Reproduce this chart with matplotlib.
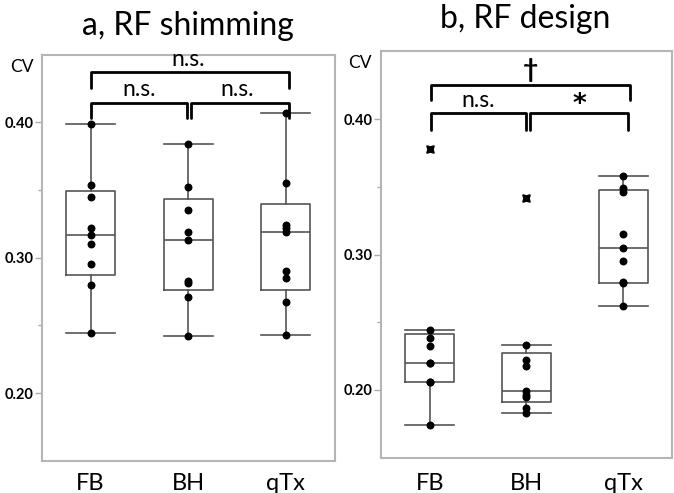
import numpy as np
import matplotlib.pyplot as plt

plt.rcParams['font.family'] = ['Lato', 'DejaVu Sans']

groups = ['FB', 'BH', 'qTx']

# CV values, a = RF shimming, b = RF design
shim_fb = [0.399, 0.354, 0.345, 0.322, 0.317, 0.310, 0.295, 0.280, 0.244]
shim_bh = [0.384, 0.352, 0.335, 0.319, 0.313, 0.283, 0.281, 0.271, 0.242]
shim_qtx = [0.407, 0.355, 0.324, 0.322, 0.319, 0.290, 0.285, 0.267, 0.243]

design_fb = [0.378, 0.244, 0.238, 0.220, 0.220, 0.2325, 0.206, 0.206, 0.174]
design_bh = [0.342, 0.233, 0.222, 0.218, 0.1995, 0.1965, 0.195, 0.187, 0.183]
design_qtx = [0.358, 0.349, 0.346, 0.315, 0.305, 0.295, 0.2795, 0.279, 0.262]

yticks = [0.20, 0.30, 0.40]


def stats(vals):
    v = np.sort(np.asarray(vals))
    q1, med, q3 = np.percentile(v, [25, 50, 75], method='weibull')
    iqr = q3 - q1
    ok = (v >= q1 - 1.5 * iqr) & (v <= q3 + 1.5 * iqr)
    return dict(med=med, q1=q1, q3=q3, whislo=v[ok].min(), whishi=v[ok].max(),
                fliers=[]), v[ok], v[~ok]


def bracket(ax, x0, x1, y, h):
    ax.plot([x0, x0, x1, x1], [y - h, y, y, y - h], color='black', lw=2.0,
            solid_joinstyle='round', solid_capstyle='round', clip_on=False)


def panel(ax, data, label_pad):
    st = []
    for i, vals in enumerate(data):
        s, inside, out = stats(vals)
        st.append(s)
        ax.plot([i] * len(inside), inside, 'o', color='black', ms=4.7, zorder=3)
        ax.plot([i] * len(out), out, marker=(4, 1, 45), ls='none', color='black',
                ms=7.5, zorder=3)
    line = dict(color='#555555', lw=1.2)
    ax.bxp(st, positions=[0, 1, 2], widths=0.5, capwidths=0.5, showfliers=False,
           boxprops=line, whiskerprops=line, capprops=line, medianprops=line)
    ax.set_xlim(-0.5, 2.5)
    ax.set_ylim(0.15, 0.45)
    ax.set_xticks([0, 1, 2])
    ax.set_xticklabels(groups, fontsize=17)
    ax.tick_params(axis='x', length=0, pad=label_pad)
    ax.set_yticks(yticks)
    ax.set_yticklabels(['%.2f' % t for t in yticks], fontsize=10.5, fontweight='bold')
    ax.set_yticks([0.25, 0.35], minor=True)
    ax.tick_params(axis='y', length=5, width=1, color='#aaaaaa', pad=1)
    ax.tick_params(axis='y', which='minor', length=3, width=1, color='#aaaaaa')
    for sp in ax.spines.values():
        sp.set_color('#b5b5b5')
        sp.set_linewidth(1.5)


fig = plt.figure(figsize=(6.74, 4.93), dpi=100)
ax1 = fig.add_axes([0.0619, 0.0655, 0.4347, 0.8235])
ax2 = fig.add_axes([0.5657, 0.0716, 0.4309, 0.8243])

panel(ax1, [shim_fb, shim_bh, shim_qtx], 9)
panel(ax2, [design_fb, design_bh, design_qtx], 11)

fig.text(188 / 674, 1 - 35 / 493, 'a, RF shimming', fontsize=23,
         ha='center', va='baseline')
fig.text(525 / 674, 1 - 28 / 493, 'b, RF design', fontsize=23,
         ha='center', va='baseline')

fig.text(10 / 674, 1 - 67 / 493, 'CV', fontsize=12.5, va='center', ha='left')
fig.text(348 / 674, 1 - 63 / 493, 'CV', fontsize=12.5, va='center', ha='left')

# significance brackets, panel a
bracket(ax1, 0.0, 2.03, 0.437, 0.0115)
ax1.text(1.0, 0.439, 'n.s.', ha='center', va='bottom', fontsize=16.5)
bracket(ax1, 0.0, 0.99, 0.4145, 0.011)
bracket(ax1, 1.03, 2.03, 0.4145, 0.011)
ax1.text(0.5, 0.4165, 'n.s.', ha='center', va='bottom', fontsize=16.5)
ax1.text(1.5, 0.4165, 'n.s.', ha='center', va='bottom', fontsize=16.5)

# significance brackets, panel b
bracket(ax2, 0.01, 2.07, 0.4254, 0.0116)
ax2.text(1.04, 0.4275, '\u2020', ha='center', va='bottom', fontsize=19, fontweight='bold')
bracket(ax2, 0.01, 1.0, 0.4044, 0.0128)
bracket(ax2, 1.04, 2.05, 0.4044, 0.0128)
ax2.text(0.5, 0.4062, 'n.s.', ha='center', va='bottom', fontsize=16.5)
ax2.text(1.55, 0.4105, '*', ha='center', va='center', fontsize=19,
         fontweight='bold', family='DejaVu Sans')

fig.savefig('out.png', dpi=100)
